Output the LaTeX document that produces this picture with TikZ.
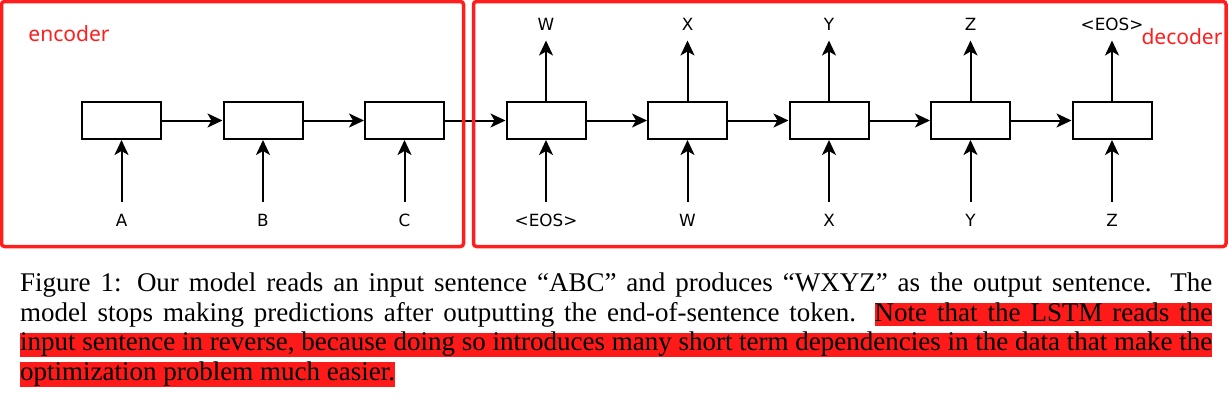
\documentclass[tikz,border=0pt]{standalone}
\usepackage{fontspec}
\setmainfont{Liberation Serif}
\newfontfamily\labelfont{DejaVu Sans}
\newfontfamily\tagfont{Noto Sans}
\usetikzlibrary{arrows.meta, positioning}
\definecolor{boxred}{RGB}{255,30,30}
\definecolor{hlred}{RGB}{255,26,26}

\begin{document}
\begin{tikzpicture}[x=1pt, y=-1pt,
    node distance=60.5pt,
    cell/.style={rectangle, draw=black, line width=2pt, fill=white,
        minimum width=79pt, minimum height=37pt, inner sep=0pt},
    tok/.style={font=\labelfont\fontsize{16.8}{18}\selectfont, inner sep=0pt,
        text height=12pt, text depth=0pt},
    arrow/.style={-{Stealth[length=15pt, width=14pt, inset=4pt]}, line width=2pt},
    part/.style={draw=boxred, line width=3.5pt, rounded corners=3pt},
    tag/.style={text=boxred, font=\tagfont\fontsize{21}{24}\selectfont, inner sep=0pt}]

    \useasboundingbox (0,0) rectangle (1232,402);

    % encoder and decoder cells
    \node[cell] (e1) at (121.5,120.5) {};
    \node[cell, right=of e1] (e2) {};
    \node[cell, right=of e2] (e3) {};
    \node[cell, right=of e3] (d1) {};
    \node[cell, right=of d1] (d2) {};
    \node[cell, right=of d2] (d3) {};
    \node[cell, right=of d3] (d4) {};
    \node[cell, right=of d4] (d5) {};

    % input tokens
    \node[tok, below=74.5pt of e1] (inA) {A};
    \node[tok, below=74.5pt of e2] (inB) {B};
    \node[tok, below=74.5pt of e3] (inC) {C};
    \node[tok, below=74.5pt of d1] (inEOS) {<EOS>};
    \node[tok, below=74.5pt of d2] (inW) {W};
    \node[tok, below=74.5pt of d3] (inX) {X};
    \node[tok, below=74.5pt of d4] (inY) {Y};
    \node[tok, below=74.5pt of d5] (inZ) {Z};

    % output tokens
    \node[tok, above=70.5pt of d1] (outW) {W};
    \node[tok, above=70.5pt of d2] (outX) {X};
    \node[tok, above=70.5pt of d3] (outY) {Y};
    \node[tok, above=70.5pt of d4] (outZ) {Z};
    \node[tok, above=70.5pt of d5] (outEOS) {<EOS>};

    \draw[arrow] (e1) -- (e2);
    \draw[arrow] (e2) -- (e3);
    \draw[arrow] (e3) -- (d1);
    \draw[arrow] (d1) -- (d2);
    \draw[arrow] (d2) -- (d3);
    \draw[arrow] (d3) -- (d4);
    \draw[arrow] (d4) -- (d5);

    \draw[arrow, shorten <=13pt] (inA) -- (e1);
    \draw[arrow, shorten <=13pt] (inB) -- (e2);
    \draw[arrow, shorten <=13pt] (inC) -- (e3);
    \draw[arrow, shorten <=13pt] (inEOS) -- (d1);
    \draw[arrow, shorten <=13pt] (inW) -- (d2);
    \draw[arrow, shorten <=13pt] (inX) -- (d3);
    \draw[arrow, shorten <=13pt] (inY) -- (d4);
    \draw[arrow, shorten <=13pt] (inZ) -- (d5);

    \draw[arrow, shorten >=10pt] (d1) -- (outW);
    \draw[arrow, shorten >=10pt] (d2) -- (outX);
    \draw[arrow, shorten >=10pt] (d3) -- (outY);
    \draw[arrow, shorten >=10pt] (d4) -- (outZ);
    \draw[arrow, shorten >=10pt] (d5) -- (outEOS);

    % red frames
    \draw[part] (1.5,1.5) rectangle (463.5,246.5);
    \draw[part] (473.5,1.5) rectangle (1226,246.5);
    \node[tag] (enc) at (69,34) {encoder};
    \node[tag] (dec) at (1182,37) {decoder};

    % caption with highlight
    \fill[hlred] (875,303) rectangle (1212,326);
    \fill[hlred] (20,333) rectangle (1212,357);
    \fill[hlred] (20,362) rectangle (395,387);
    \node[anchor=north west, inner sep=0pt, text width=1192pt, align=justify,
        font=\fontsize{27}{29.5}\selectfont] (cap) at (20,273)
        {Figure 1: Our model reads an input sentence ``ABC'' and produces ``WXYZ'' as the output sentence. The\linebreak
        model stops making predictions after outputting the end-of-sentence token. Note that the LSTM reads the\linebreak
        input sentence in reverse, because doing so introduces many short term dependencies in the data that make the\linebreak
        optimization problem much easier.};
\end{tikzpicture}
\end{document}
